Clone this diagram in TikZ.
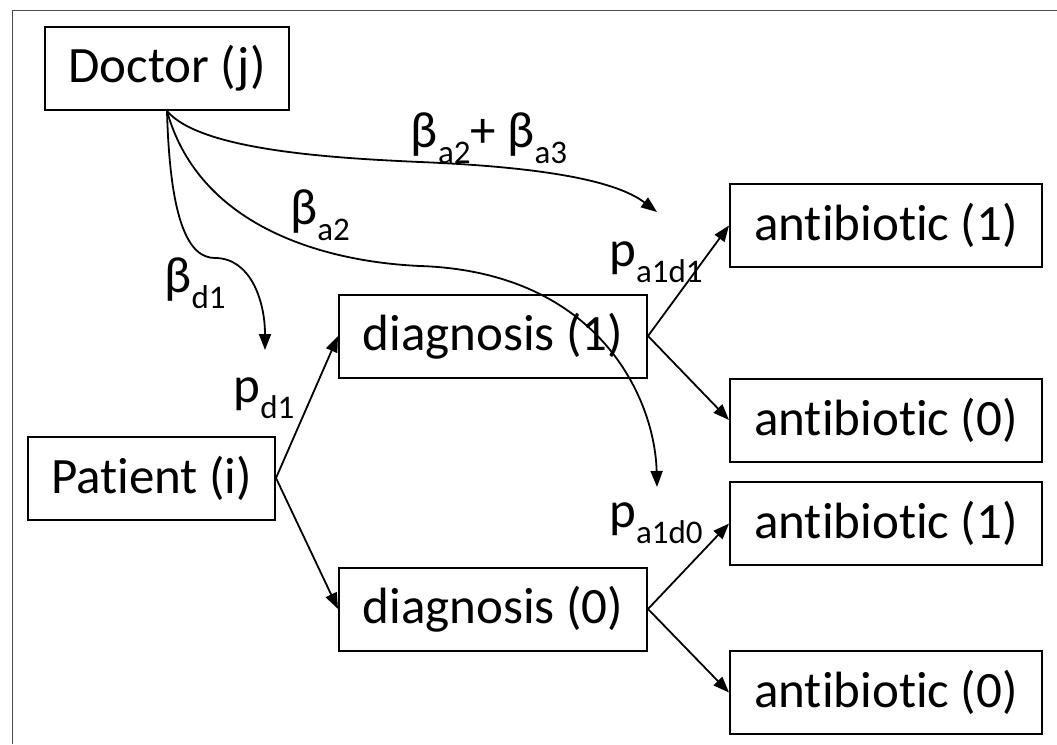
\documentclass[tikz,border=0pt]{standalone}
\usepackage{fontspec}
\setmainfont[Ligatures={NoCommon}]{Carlito}
\usetikzlibrary{arrows.meta}
\newcommand{\lsub}[1]{\raisebox{-0.32em}{\fontsize{33}{38}\selectfont #1}}
\begin{document}
\begin{tikzpicture}[x=1pt,y=-1pt,
  box/.style={draw, line width=2pt, inner sep=0pt, minimum height=83pt, font=\fontsize{51}{60}\selectfont},
  conn/.style={line width=1.8pt, -{Triangle[length=16pt,width=12pt]}},
  lbl/.style={inner sep=0pt, font=\fontsize{51}{60}\selectfont}]
\useasboundingbox (0,0) rectangle (1057,744);
\draw[black!70, line width=1pt] (12,744) -- (12,10) -- (1057,10);
% nodes
\node[box, minimum width=244pt] (doc) at (167,68.5) {Doctor (j)};
\node[box, minimum width=247pt] (pat) at (151.5,478) {Patient (i)};
\node[box, minimum width=308pt] (d1) at (493,336) {diagnosis (1)};
\node[box, minimum width=308pt] (d0) at (493,609) {diagnosis (0)};
\node[box, minimum width=312pt] (a11) at (886,225.5) {antibiotic (1)};
\node[box, minimum width=312pt] (a10) at (886,420) {antibiotic (0)};
\node[box, minimum width=312pt] (a01) at (886,523.5) {antibiotic (1)};
\node[box, minimum width=312pt] (a00) at (886,692.5) {antibiotic (0)};
% free ends of the curved connectors
\coordinate (tipd) at (265,350);
\coordinate (tipa) at (657,487);
\coordinate (tipb) at (657,212);
% straight connectors
\draw[conn] (pat.east) -- (d1.west);
\draw[conn] (pat.east) -- (d0.west);
\draw[conn] (d1.east) -- (a11.west);
\draw[conn] (d1.east) -- (a10.west);
\draw[conn] (d0.east) -- (a01.west);
\draw[conn] (d0.east) -- (a00.west);
% curved connectors from the doctor
\draw[conn] (doc.south) .. controls (170,220) and (188,258) .. (215,258)
  .. controls (250,258) and (265,300) .. (tipd);
\draw[conn] (doc.south) .. controls (200,230) and (330,262) .. (420,266)
  .. controls (600,272) and (655,400) .. (tipa);
\draw[conn] (doc.south) .. controls (200,150) and (330,158) .. (420,162)
  .. controls (540,167) and (615,180) .. (tipb);
% labels
\node[lbl] (lab1) at (489,138) {β\lsub{a2}+ β\lsub{a3}};
\node[lbl] (lab2) at (320,215) {β\lsub{a2}};
\node[lbl] (lab3) at (195,283) {β\lsub{d1}};
\node[lbl] (lab4) at (264,398) {p\lsub{d1}};
\node[lbl] (lab5) at (656,262) {p\lsub{a1d1}};
\node[lbl] (lab6) at (656,523) {p\lsub{a1d0}};
\end{tikzpicture}
\end{document}
